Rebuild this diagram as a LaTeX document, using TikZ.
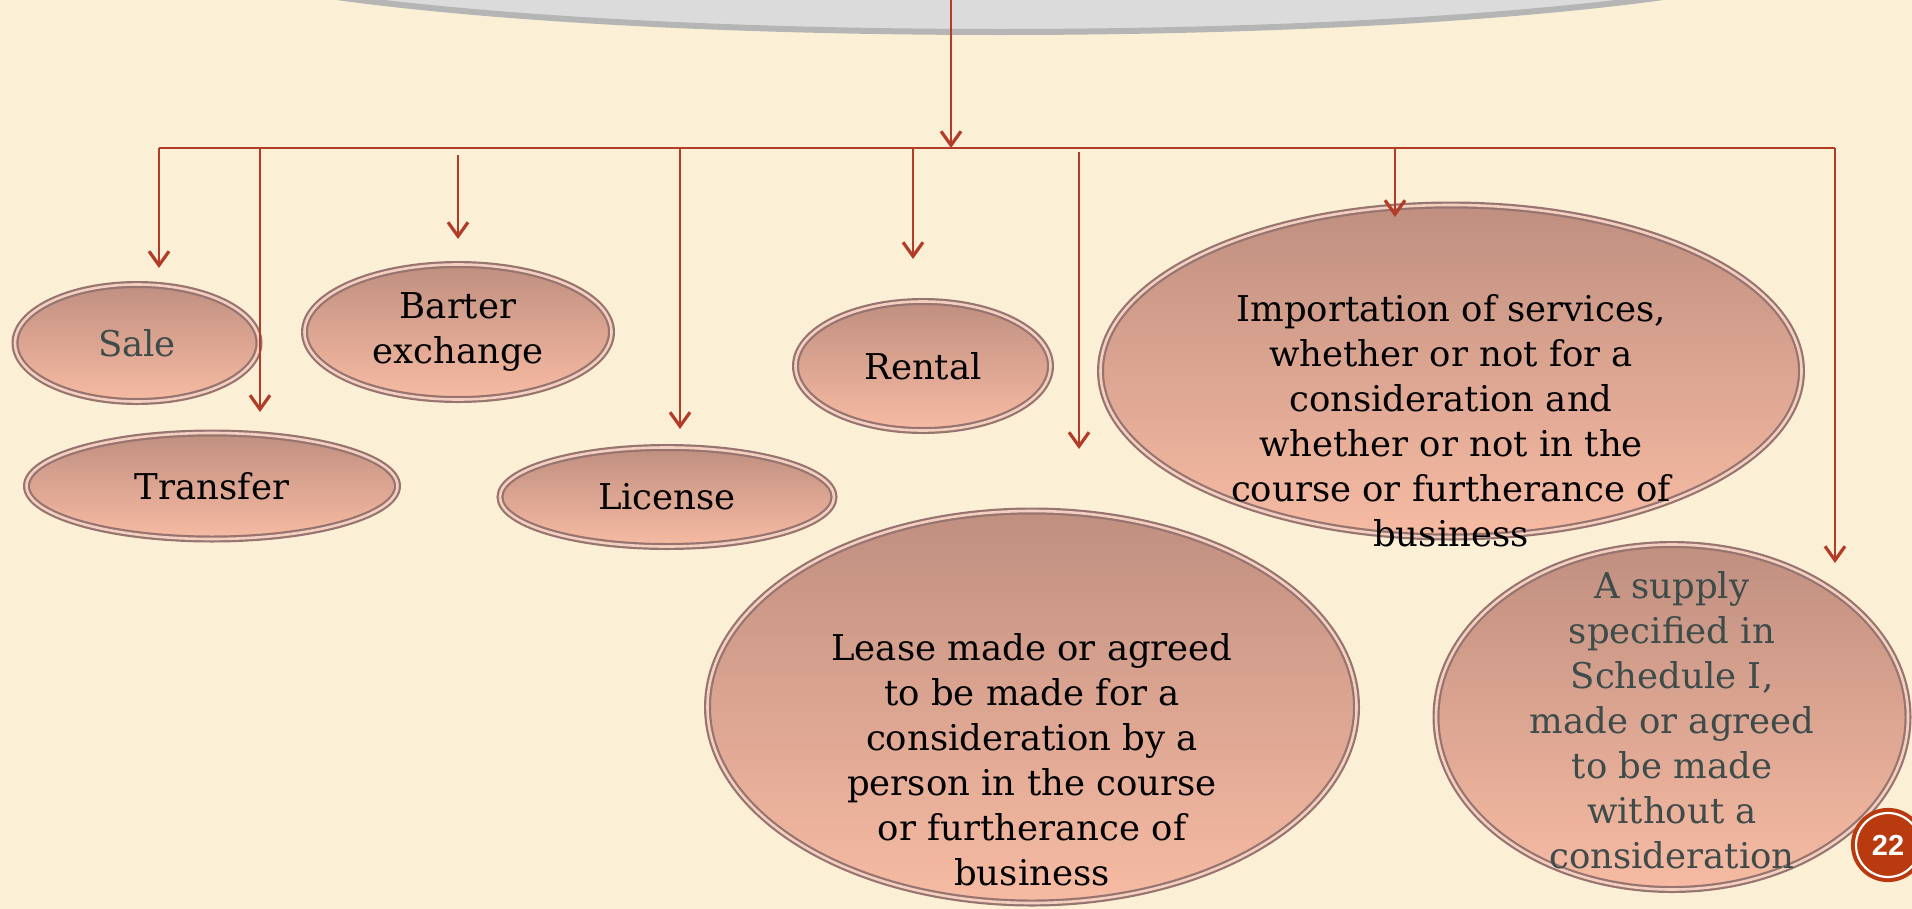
\documentclass[tikz,border=0pt]{standalone}
\usepackage{fontspec}
\setmainfont{DejaVu Serif}
\setsansfont{Liberation Sans}
\usetikzlibrary{arrows.meta,shapes.geometric,calc}
\definecolor{paper}{HTML}{FBF0D6}
\definecolor{ovalTop}{HTML}{C08F80}
\definecolor{ovalBot}{HTML}{F7BBA3}
\definecolor{ovalRim}{HTML}{987470}
\definecolor{ovalRing}{HTML}{F3CFC0}
\definecolor{wire}{HTML}{B23C27}
\definecolor{slate}{HTML}{3E4B4B}
\definecolor{badgeRed}{HTML}{B93A0E}

\begin{document}
\begin{tikzpicture}[
  x=1bp,y=-1bp,
  font=\fontsize{35.5bp}{45bp}\selectfont,
  oval/.style={ellipse,draw=ovalRim,line width=2.2bp,double=ovalRing,
               double distance=2.6bp,top color=ovalTop,bottom color=ovalBot,
               inner sep=0pt,align=center},
  txt/.style={align=center,inner sep=0pt},
  head/.style={ellipse,fill=gray!28,draw=gray!58,line width=6bp,
               minimum width=1690bp,minimum height=184bp},
  bus/.style={wire,line width=2.8bp},
  arr/.style={bus,-{Straight Barb[length=14bp,width=20bp,line width=3.2bp]}},
  badge/.style={circle,fill=badgeRed,draw=badgeRed,line width=4bp,
                double=white,double distance=2.2bp,minimum size=64bp,
                text=white,font=\sffamily\bfseries\fontsize{29bp}{32bp}\selectfont},
]
  \useasboundingbox (0,0) rectangle (1912,909);
  \fill[paper] (0,0) rectangle (1912,909);

  % parent box, mostly above the page
  \node[head] (head) at (1000,-60) {};

  % branches
  \node[oval,minimum width=244bp,minimum height=117bp,text=slate] (sale) at (137,343) {Sale};
  \node[oval,minimum width=307bp,minimum height=135bp] (barter) at (458,332) {Barter\\exchange};
  \node[oval,minimum width=371bp,minimum height=106bp] (transfer) at (212,486) {Transfer};
  \node[oval,minimum width=334bp,minimum height=99bp] (license) at (667,497) {License};
  \node[oval,minimum width=255bp,minimum height=129bp] (rental) at (923,366) {Rental};
  \node[oval,minimum width=701bp,minimum height=332bp] (import) at (1451,371) {};
  \node[oval,minimum width=649bp,minimum height=392bp] (lease) at (1032,707) {};
  \node[oval,minimum width=472bp,minimum height=345bp] (supply) at (1672,717) {};

  \node[txt] (importTxt) at ($(import.center)+(0,50)$)
    {Importation of services,\\whether or not for a\\consideration and\\
     whether or not in the\\course or furtherance of\\business};
  \node[txt] (leaseTxt) at ($(lease.center)+(0,53)$)
    {Lease made or agreed\\to be made for a\\consideration by a\\
     person in the course\\or furtherance of\\business};
  \node[txt,text=slate] (supplyTxt) at ($(supply.center)+(0,3)$)
    {A supply\\specified in\\Schedule I,\\made or agreed\\to be made\\
     without a\\consideration};

  \node[badge] (page) at (1888,845) {22};

  % connectors
  \coordinate (hub) at (951,148);
  \coordinate (busL) at (159,148);
  \coordinate (busR) at (1835,148);
  \coordinate (saleTip) at (159,268);
  \coordinate (transferTip) at (260,412);
  \coordinate (barterTip) at (458,239);
  \coordinate (licenseTip) at (680,429);
  \coordinate (rentalTip) at (913,259);
  \coordinate (leaseTip) at (1079,449);
  \coordinate (importTip) at (1395,217);
  \coordinate (supplyTip) at (1835,563);

  \draw[arr] (hub |- head.center) -- (hub);
  \draw[bus] (busL) -- (busR);
  \draw[arr] (busL) -- (saleTip);
  \draw[arr] (transferTip |- busL) -- (transferTip);
  \draw[arr] ($(barterTip |- busL)+(0,7)$) -- (barterTip);
  \draw[arr] (licenseTip |- busL) -- (licenseTip);
  \draw[arr] (rentalTip |- busL) -- (rentalTip);
  \draw[arr] ($(leaseTip |- busL)+(0,4)$) -- (leaseTip);
  \draw[arr] (importTip |- busL) -- (importTip);
  \draw[arr] (busR) -- (supplyTip);
\end{tikzpicture}
\end{document}
